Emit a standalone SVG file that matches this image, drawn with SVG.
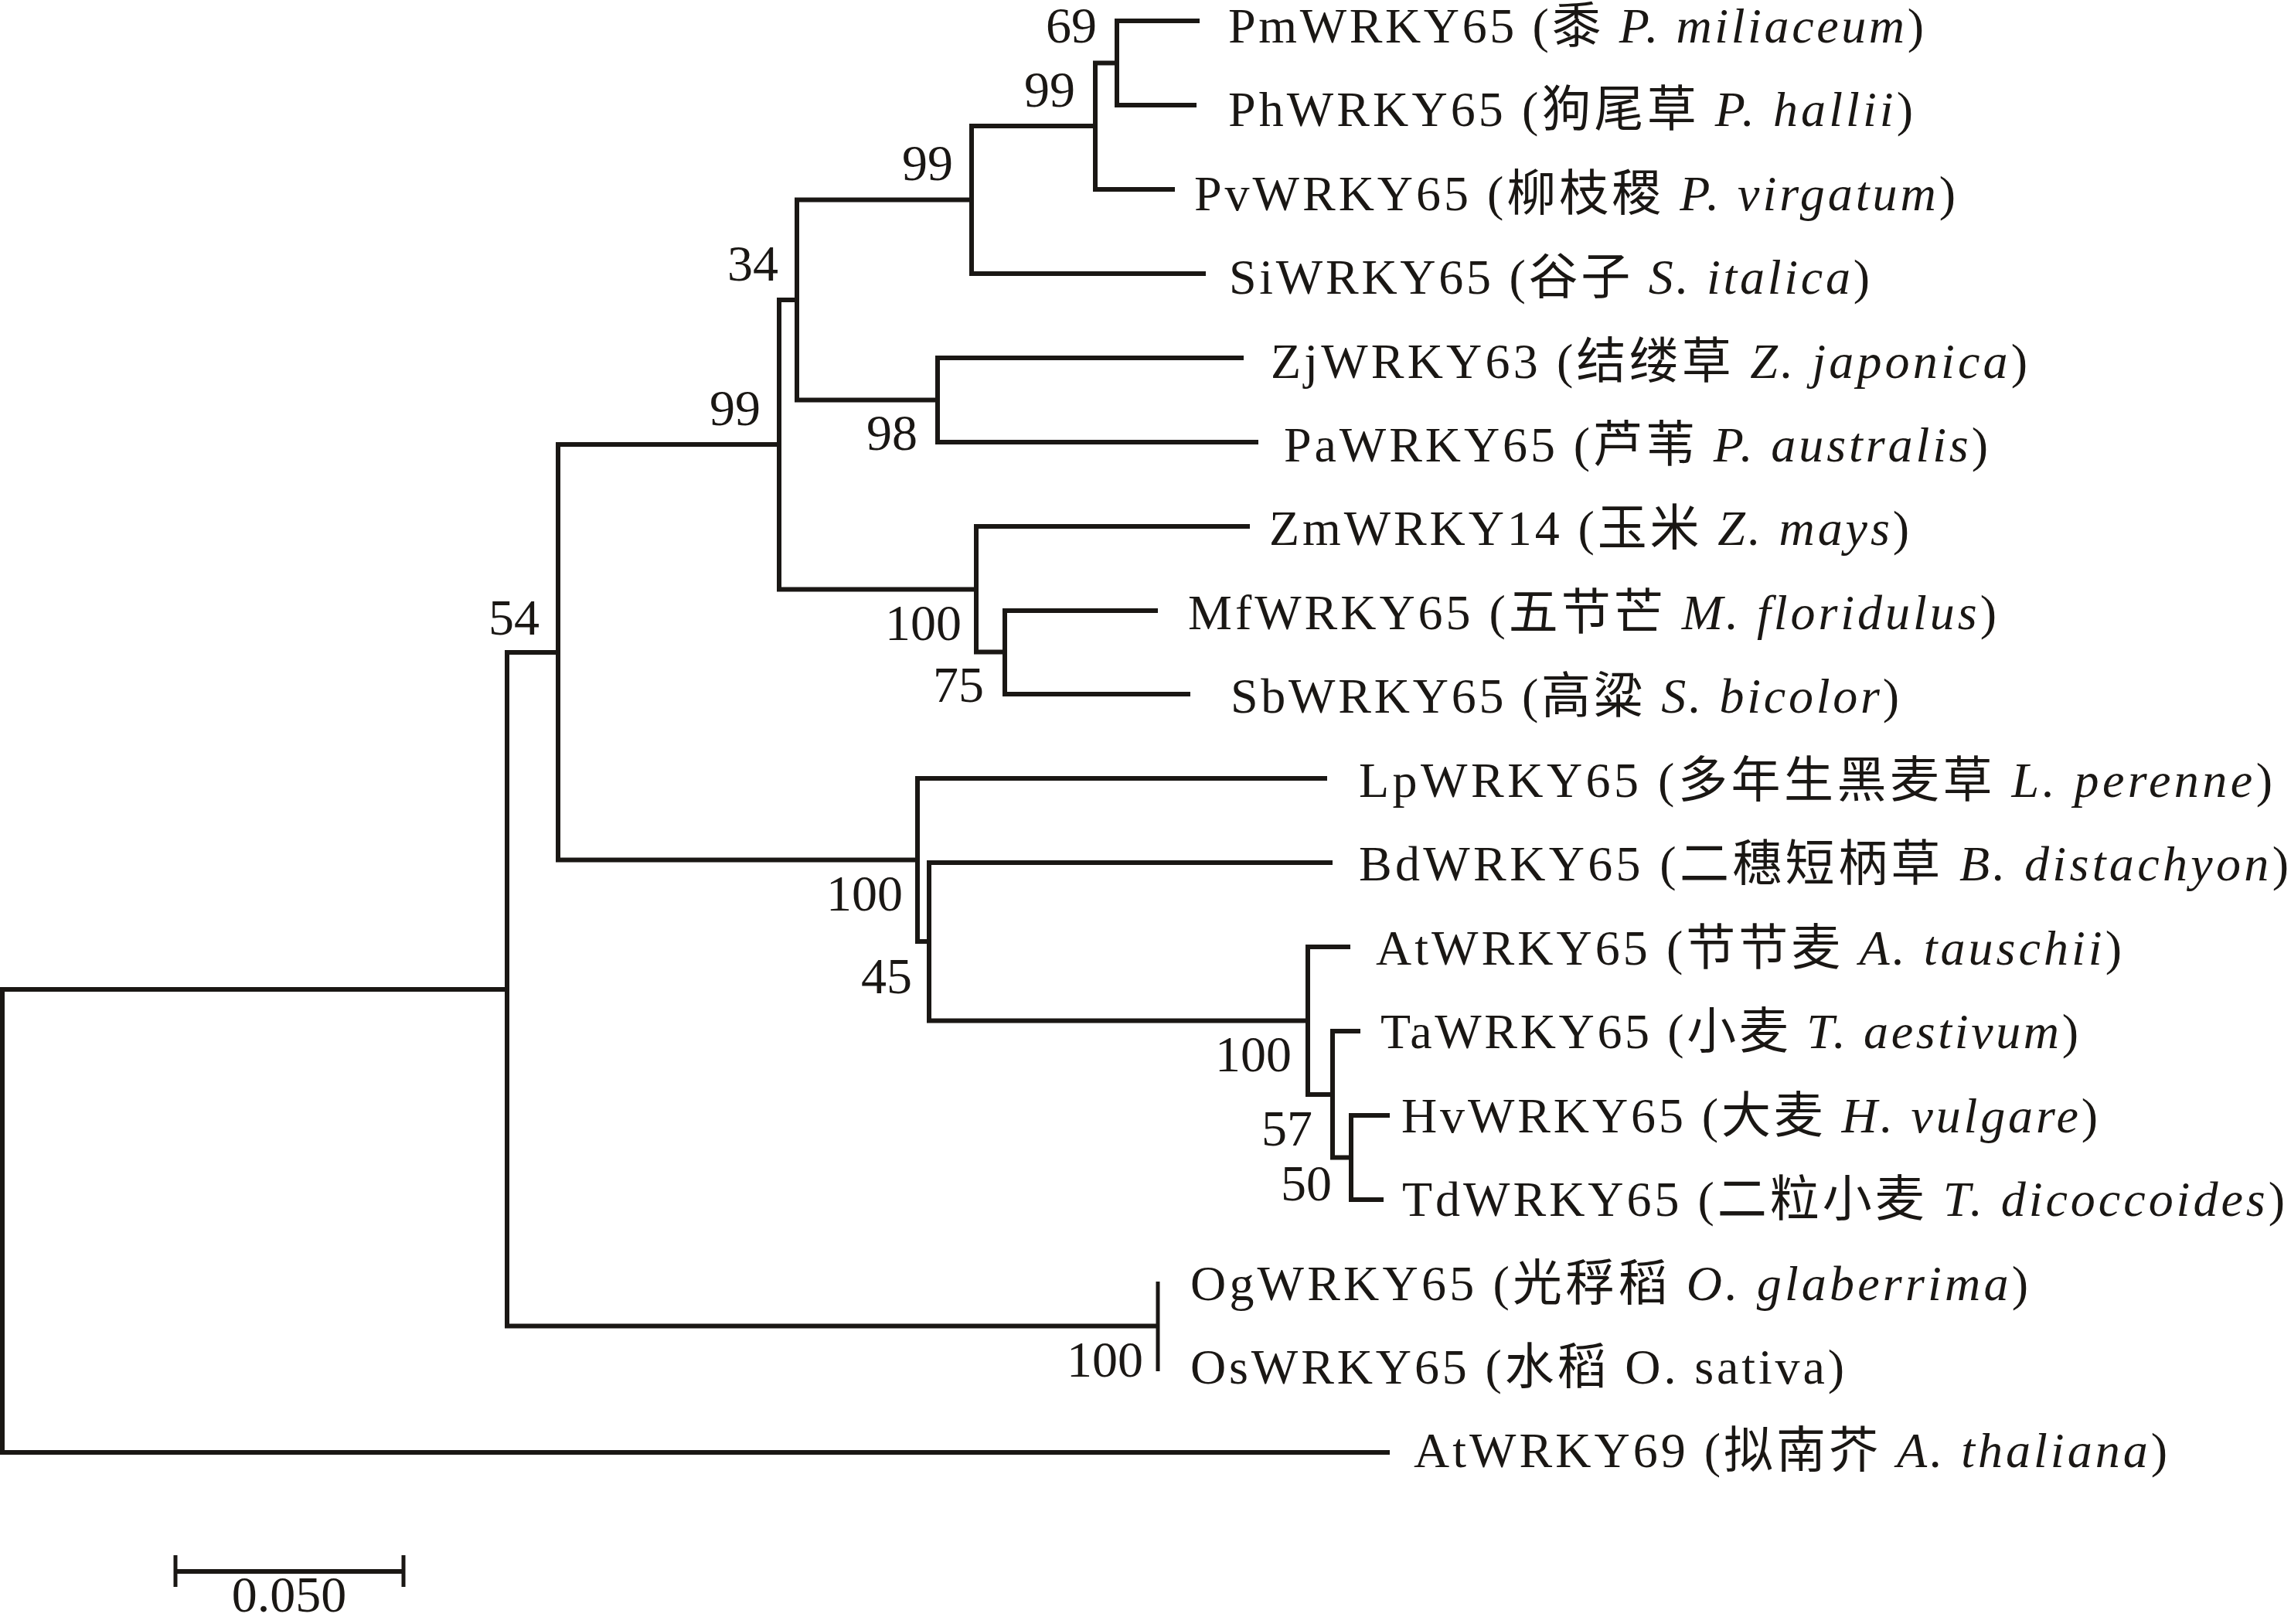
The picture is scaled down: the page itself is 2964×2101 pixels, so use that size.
<svg xmlns="http://www.w3.org/2000/svg" width="2964" height="2101" viewBox="0 0 2964 2101">
<style>
.br{fill:none;stroke:#1a1714;stroke-width:6;stroke-linejoin:miter;stroke-linecap:butt}
.lb{font-family:"Liberation Serif","Noto Sans CJK SC",serif;font-size:64px;fill:#1a1714}
.bs{font-family:"Liberation Serif",serif;font-size:66px;fill:#1a1714;text-anchor:end}
.it{font-style:italic}
</style>
<rect width="2964" height="2101" fill="#fff"/>
<g id="connectors">
<path class="br" d="M656,1280 H3 V1879 H1798"/>
<path class="br" d="M722,844 H656 V1715.5 H1498"/>
<path class="br" d="M1008,575 H722 V1112.6 H1187"/>
<path class="br" d="M1031,388 H1008 V762.5 H1263"/>
<path class="br" d="M1257,258.5 H1031 V517.5 H1213"/>
<path class="br" d="M1417,163 H1257 V354 H1560"/>
<path class="br" d="M1445,81.5 H1417 V245 H1520"/>
<path class="br" d="M1552,27 H1445 V136 H1548"/>
<path class="br" d="M1609,463 H1213 V572 H1628"/>
<path class="br" d="M1617,681 H1263 V843.5 H1300"/>
<path class="br" d="M1498,790 H1300 V898 H1540"/>
<path class="br" d="M1717,1007 H1187 V1218 H1202"/>
<path class="br" d="M1724,1116 H1202 V1320.5 H1692"/>
<path class="br" d="M1747,1225 H1692 V1416 H1724"/>
<path class="br" d="M1760,1334 H1724 V1497.5 H1748"/>
<path class="br" d="M1798,1443 H1748 V1552 H1790"/>
<path class="br" d="M1498,1658 V1774" style="stroke-width:5"/>
</g>
<g id="bootstrap">
<text class="bs" x="1419" y="55">69</text>
<text class="bs" x="1391" y="138">99</text>
<text class="bs" x="1233" y="233">99</text>
<text class="bs" x="1007" y="363">34</text>
<text class="bs" x="984" y="550">99</text>
<text class="bs" x="1187" y="582">98</text>
<text class="bs" x="698" y="821">54</text>
<text class="bs" x="1244" y="828">100</text>
<text class="bs" x="1273" y="908">75</text>
<text class="bs" x="1168" y="1178">100</text>
<text class="bs" x="1180" y="1285">45</text>
<text class="bs" x="1671" y="1386">100</text>
<text class="bs" x="1698" y="1482">57</text>
<text class="bs" x="1723" y="1553">50</text>
<text class="bs" x="1479" y="1781">100</text>
</g>
<g id="n-Pm"><text class="lb" x="1589" y="55" textLength="900" lengthAdjust="spacing">PmWRKY65 (黍 <tspan class="it">P. miliaceum</tspan>)</text></g>
<g id="n-Ph"><text class="lb" x="1589" y="163" textLength="886" lengthAdjust="spacing">PhWRKY65 (狗尾草 <tspan class="it">P. hallii</tspan>)</text></g>
<g id="n-Pv"><text class="lb" x="1545" y="272" textLength="985" lengthAdjust="spacing">PvWRKY65 (柳枝稷 <tspan class="it">P. virgatum</tspan>)</text></g>
<g id="n-Si"><text class="lb" x="1590" y="380" textLength="829" lengthAdjust="spacing">SiWRKY65 (谷子 <tspan class="it">S. italica</tspan>)</text></g>
<g id="n-Zj"><text class="lb" x="1644" y="489" textLength="979" lengthAdjust="spacing">ZjWRKY63 (结缕草 <tspan class="it">Z. japonica</tspan>)</text></g>
<g id="n-Pa"><text class="lb" x="1661" y="597" textLength="911" lengthAdjust="spacing">PaWRKY65 (芦苇 <tspan class="it">P. australis</tspan>)</text></g>
<g id="n-Zm"><text class="lb" x="1642" y="705" textLength="828" lengthAdjust="spacing">ZmWRKY14 (玉米 <tspan class="it">Z. mays</tspan>)</text></g>
<g id="n-Mf"><text class="lb" x="1537" y="814" textLength="1046" lengthAdjust="spacing">MfWRKY65 (五节芒 <tspan class="it">M. floridulus</tspan>)</text></g>
<g id="n-Sb"><text class="lb" x="1592" y="922" textLength="865" lengthAdjust="spacing">SbWRKY65 (高粱 <tspan class="it">S. bicolor</tspan>)</text></g>
<g id="n-Lp"><text class="lb" x="1758" y="1031" textLength="1182" lengthAdjust="spacing">LpWRKY65 (多年生黑麦草 <tspan class="it">L. perenne</tspan>)</text></g>
<g id="n-Bd"><text class="lb" x="1758" y="1139" textLength="1203" lengthAdjust="spacing">BdWRKY65 (二穗短柄草 <tspan class="it">B. distachyon</tspan>)</text></g>
<g id="n-At"><text class="lb" x="1780" y="1248" textLength="965" lengthAdjust="spacing">AtWRKY65 (节节麦 <tspan class="it">A. tauschii</tspan>)</text></g>
<g id="n-Ta"><text class="lb" x="1786" y="1356" textLength="903" lengthAdjust="spacing">TaWRKY65 (小麦 <tspan class="it">T. aestivum</tspan>)</text></g>
<g id="n-Hv"><text class="lb" x="1813" y="1465" textLength="901" lengthAdjust="spacing">HvWRKY65 (大麦 <tspan class="it">H. vulgare</tspan>)</text></g>
<g id="n-Td"><text class="lb" x="1814" y="1573" textLength="1142" lengthAdjust="spacing">TdWRKY65 (二粒小麦 <tspan class="it">T. dicoccoides</tspan>)</text></g>
<g id="n-Og"><text class="lb" x="1540" y="1682" textLength="1084" lengthAdjust="spacing">OgWRKY65 (光稃稻 <tspan class="it">O. glaberrima</tspan>)</text></g>
<g id="n-Os"><text class="lb" x="1540" y="1790" textLength="846" lengthAdjust="spacing">OsWRKY65 (水稻 O. sativa)</text></g>
<g id="n-At69"><text class="lb" x="1829" y="1898" textLength="975" lengthAdjust="spacing">AtWRKY69 (拟南芥 <tspan class="it">A. thaliana</tspan>)</text></g>
<g id="scalebar">
<path class="br" d="M227,2033 H522"/>
<path class="br" d="M227,2012 V2053 M522,2012 V2053" style="stroke-width:5"/>
<text class="bs" x="374" y="2085" style="text-anchor:middle">0.050</text>
</g>
</svg>
